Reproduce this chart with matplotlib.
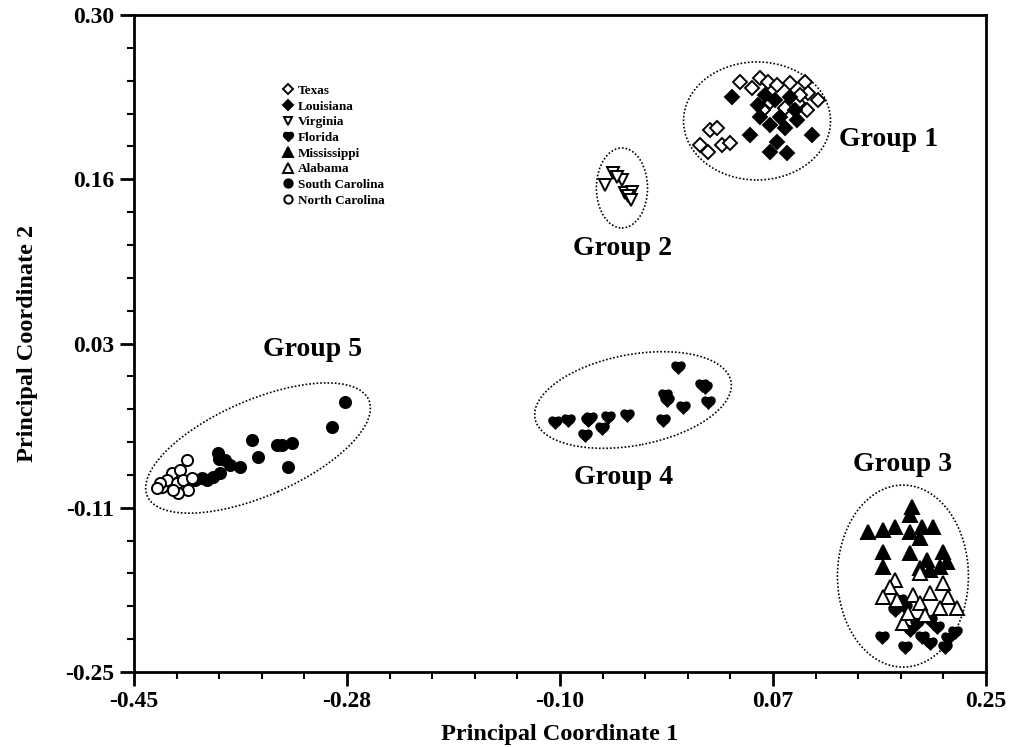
import numpy as np
import matplotlib
matplotlib.use("Agg")
import matplotlib.pyplot as plt
from matplotlib.path import Path
from matplotlib.patches import Ellipse
from matplotlib.ticker import FixedLocator, FixedFormatter, AutoMinorLocator

plt.rcParams['font.family'] = ['Liberation Serif', 'DejaVu Serif']
plt.rcParams['font.weight'] = 'bold'

# Data
texas_x = [0.0232, 0.0290, 0.0150, 0.0216, 0.0331, 0.0397,
           0.0479, 0.0643, 0.0709, 0.0783, 0.0890, 0.1013, 0.1120, 0.1030,
           0.0955, 0.0849, 0.0725, 0.0668, 0.0577, 0.1038, 0.0972]
texas_y = [0.2037, 0.2054, 0.1912, 0.1853, 0.1912, 0.1928,
           0.2439, 0.2473, 0.2439, 0.2414, 0.2431, 0.2439, 0.2288, 0.2205,
           0.2263, 0.2221, 0.2272, 0.2205, 0.2389, 0.2347, 0.2330]

louisiana_x = [0.0413, 0.0561, 0.0783, 0.0725, 0.0865, 0.1071, 0.0643, 0.0808,
               0.0947, 0.0684, 0.0767, 0.0890, 0.0725, 0.0849, 0.0931, 0.0627]
louisiana_y = [0.2313, 0.1995, 0.1937, 0.1853, 0.1845, 0.1995, 0.2146, 0.2146,
               0.2121, 0.2330, 0.2288, 0.2313, 0.2079, 0.2054, 0.2205, 0.2247]

virginia_x = [-0.0630, -0.0564, -0.0491, -0.0466, -0.0408, -0.0441, -0.0417, -0.0532]
virginia_y = [0.1577, 0.1677, 0.1619, 0.1510, 0.1518, 0.1485, 0.1451, 0.1644]

florida_x = [0.1646, 0.1835, 0.1794, 0.1835, 0.1933, 0.1876, 0.1974, 0.2040,
             0.2097, 0.2188, 0.2163, 0.1752, 0.2040, 0.2245,
             -0.1041, -0.0934, -0.0770, -0.0754, -0.0795, -0.0655, -0.0606,
             -0.0449, -0.0154, -0.0121, -0.0137, 0.0011, -0.0030, 0.0167,
             0.0191, 0.0216]
florida_y = [-0.2207, -0.2291, -0.1898, -0.1956, -0.2090, -0.2149, -0.2207, -0.2258,
             -0.2124, -0.2216, -0.2291, -0.1981, -0.2065, -0.2166,
             -0.0407, -0.0391, -0.0391, -0.0374, -0.0516, -0.0458, -0.0366,
             -0.0349, -0.0391, -0.0223, -0.0181, -0.0282, 0.0053, -0.0098,
             -0.0114, -0.0240]

mississippi_x = [0.1892, 0.1876, 0.1531, 0.1654, 0.1752, 0.1876, 0.1974, 0.2065,
                 0.1958, 0.1654, 0.1654, 0.1876, 0.2015, 0.2147, 0.2180, 0.2040,
                 0.1958, 0.2122]
mississippi_y = [-0.1119, -0.1186, -0.1328, -0.1311, -0.1286, -0.1328, -0.1286, -0.1286,
                 -0.1379, -0.1496, -0.1621, -0.1504, -0.1563, -0.1496, -0.1579, -0.1646,
                 -0.1630, -0.1621]

alabama_x = [0.1752, 0.1711, 0.1654, 0.1769, 0.1900, 0.1958, 0.2040, 0.2147,
             0.2188, 0.2262, 0.1818, 0.1859, 0.1999, 0.2122, 0.1958]
alabama_y = [-0.1730, -0.1789, -0.1873, -0.1898, -0.1856, -0.1923, -0.1839, -0.1755,
             -0.1873, -0.1965, -0.2090, -0.2006, -0.2023, -0.1965, -0.1672]

scarolina_x = [-0.2766, -0.2873, -0.3530, -0.3325, -0.3284, -0.3202, -0.3481, -0.3235,
               -0.3629, -0.3711, -0.3810, -0.3752, -0.3793, -0.3851, -0.3900, -0.3941,
               -0.3999, -0.3802]
scarolina_y = [-0.0240, -0.0449, -0.0558, -0.0600, -0.0600, -0.0583, -0.0700, -0.0784,
               -0.0784, -0.0767, -0.0667, -0.0726, -0.0834, -0.0868, -0.0893, -0.0876,
               -0.0893, -0.0717]

ncarolina_x = [-0.4065, -0.4188, -0.4122, -0.4270, -0.4229, -0.4147, -0.4097, -0.4056,
               -0.4139, -0.4023, -0.4180, -0.4286, -0.4311]
ncarolina_y = [-0.0726, -0.0834, -0.0809, -0.0952, -0.0893, -0.0918, -0.0893, -0.0977,
               -0.1002, -0.0876, -0.0977, -0.0918, -0.0960]

# groups: name, label position, ellipse centre, width, height, angle
group_names = ["Group 1", "Group 2", "Group 3", "Group 4", "Group 5"]
group_label_x = [0.1703, -0.0483, 0.1818, -0.0474, -0.3029]
group_label_y = [0.1962, 0.1049, -0.0767, -0.0868, 0.0204]
ell_cx = [0.0619, -0.0491, 0.1818, -0.0400, -0.3481]
ell_cy = [0.2113, 0.1552, -0.1697, -0.0223, -0.0625]
ell_w = [0.1208, 0.0420, 0.1076, 0.1640, 0.1990]
ell_h = [0.0988, 0.0670, 0.1524, 0.0760, 0.0800]
ell_ang = [0, 0, 0, 11, 24]

xticks = [-0.45, -0.275, -0.10, 0.075, 0.25]
xtick_labels = ["-0.45", "-0.28", "-0.10", "0.07", "0.25"]
yticks = [-0.25, -0.1125, 0.025, 0.1625, 0.30]
ytick_labels = ["-0.25", "-0.11", "0.03", "0.16", "0.30"]

# heart-shaped marker for Florida
heart = Path(
    [(0, -1), (-0.2, -0.6), (-1, -0.3), (-1, 0.3),
     (-1, 0.85), (-0.35, 1.0), (0, 0.6),
     (0.35, 1.0), (1, 0.85), (1, 0.3),
     (1, -0.3), (0.2, -0.6), (0, -1), (0, -1)],
    [Path.MOVETO, Path.CURVE4, Path.CURVE4, Path.CURVE4,
     Path.CURVE4, Path.CURVE4, Path.CURVE4,
     Path.CURVE4, Path.CURVE4, Path.CURVE4,
     Path.CURVE4, Path.CURVE4, Path.CURVE4, Path.CLOSEPOLY])

fig = plt.figure(figsize=(10.13, 7.47), dpi=100)
ax = fig.add_axes([0.1323, 0.1004, 0.8410, 0.8795])

series = [
    ("Texas", texas_x, texas_y, "D", "white", 6.8),
    ("Louisiana", louisiana_x, louisiana_y, "D", "black", 6.8),
    ("Virginia", virginia_x, virginia_y, "v", "white", 8),
    ("Florida", florida_x, florida_y, heart, "black", 9),
    ("Mississippi", mississippi_x, mississippi_y, "^", "black", 10),
    ("Alabama", alabama_x, alabama_y, "^", "white", 10),
    ("South Carolina", scarolina_x, scarolina_y, "o", "black", 8),
    ("North Carolina", ncarolina_x, ncarolina_y, "o", "white", 8),
]
for name, xs, ys, mk, fc, ms in series:
    ax.plot(xs, ys, linestyle="none", marker=mk, markersize=ms,
            markerfacecolor=fc, markeredgecolor="black", markeredgewidth=1.4,
            label=name)

for i in range(len(group_names)):
    ax.add_patch(Ellipse((ell_cx[i], ell_cy[i]), ell_w[i], ell_h[i], angle=ell_ang[i],
                         fill=False, edgecolor="black", linestyle=(0, (1, 1.2)),
                         linewidth=1.2))
    ax.text(group_label_x[i], group_label_y[i], group_names[i], fontsize=20,
            fontweight="bold", ha="center", va="center")

ax.set_xlim(-0.45, 0.25)
ax.set_ylim(-0.25, 0.30)
ax.xaxis.set_major_locator(FixedLocator(xticks))
ax.xaxis.set_major_formatter(FixedFormatter(xtick_labels))
ax.yaxis.set_major_locator(FixedLocator(yticks))
ax.yaxis.set_major_formatter(FixedFormatter(ytick_labels))
ax.xaxis.set_minor_locator(AutoMinorLocator(5))
ax.yaxis.set_minor_locator(AutoMinorLocator(5))
ax.tick_params(which="major", direction="out", length=10, width=2, labelsize=17, pad=4)
ax.tick_params(which="minor", direction="out", length=5, width=1.5)
for sp in ax.spines.values():
    sp.set_linewidth(2)

ax.set_xlabel("Principal Coordinate 1", fontsize=17.5, fontweight="bold", labelpad=8)
ax.set_ylabel("Principal Coordinate 2", fontsize=17.5, fontweight="bold", labelpad=20)

leg = ax.legend(loc="upper left", bbox_to_anchor=(0.163, 0.908), frameon=False,
                prop={"size": 9.5, "weight": "bold"}, markerscale=0.75,
                handlelength=0.9, handletextpad=0.3, labelspacing=0.26,
                borderpad=0.2)

fig.savefig("out.png", dpi=100)
